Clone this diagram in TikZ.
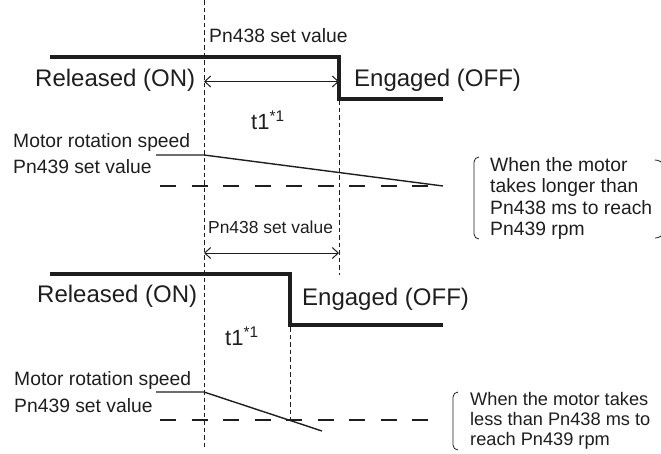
\documentclass[tikz,border=0pt]{standalone}
\usepackage{fontspec}
\setmainfont{Liberation Sans}
\usetikzlibrary{arrows.meta}
\definecolor{InkBlack}{RGB}{30,30,30}

\begin{document}
\begin{tikzpicture}[x=1pt,y=-1pt,
  big/.style={inner sep=0pt,anchor=base west,text=InkBlack,font=\fontsize{24}{28}\selectfont},
  lbl/.style={inner sep=0pt,anchor=base west,text=InkBlack,font=\fontsize{19.3}{22}\selectfont},
  note/.style={inner sep=0pt,anchor=north west,align=left,text=InkBlack},
  sig/.style={line width=3.6pt,InkBlack},
  speed/.style={line width=1.4pt,InkBlack},
  guide/.style={line width=0.8pt,InkBlack,dash pattern=on 4.5pt off 3pt},
  level/.style={line width=2pt,InkBlack,dash pattern=on 16pt off 15.5pt},
  dim/.style={{Straight Barb[length=6pt,width=11pt]}-{Straight Barb[length=6pt,width=11pt]},line width=1pt,InkBlack},
  brk/.style={line width=0.8pt,InkBlack},
]
\useasboundingbox (0,0) rectangle (661,453);

% time marks
\coordinate (g0) at (204,0);   \coordinate (g0e) at (204,447);
\coordinate (g1) at (339,100); \coordinate (g1e) at (339,275);
\coordinate (g2) at (290,327); \coordinate (g2e) at (290,421);
\draw[guide] (g0) -- (g0e);
\draw[guide] (g1) -- (g1e);
\draw[guide] (g2) -- (g2e);

% case 1: motor slower than Pn438
\draw[sig] (50,57) -- (339,57) -- (339,99) -- (443,99);
\node[lbl] (setA) at (209,42) {Pn438 set value};
\coordinate (dA0) at (204,81.5); \coordinate (dA1) at (339,81.5);
\draw[dim] (dA0) -- (dA1);
\node[big] (relA) at (35,86) {Released (ON)};
\node[big] (engA) at (354,86) {Engaged (OFF)};
\node[big,font=\fontsize{22}{26}\selectfont] (tA) at (251,129) {t1\textsuperscript{*1}};
\node[lbl] (motA) at (13,147) {Motor rotation speed};
\node[lbl] (spdA) at (13,173) {Pn439 set value};
\draw[speed] (156,155) -- (204,155) -- (443,186);
\draw[level] (160,186) -- (443,186);
\draw[brk] (479,157) to[out=180,in=90] (474,162) -- (474,234) to[out=-90,in=180] (479,239);
\draw[brk] (655,160) to[out=0,in=90] (663,166) -- (663,232) to[out=-90,in=0] (655,238);
\node[note,font=\fontsize{19.3}{21.5}\selectfont] (noteA) at (490,157)
  {When the motor\\takes longer than\\Pn438 ms to reach\\Pn439 rpm};

% case 2: motor faster than Pn438
\node[lbl,font=\fontsize{17.4}{20}\selectfont] (setB) at (208,233) {Pn438 set value};
\coordinate (dB0) at (204,253); \coordinate (dB1) at (339,253);
\draw[dim] (dB0) -- (dB1);
\draw[sig] (50,274) -- (290,274) -- (290,325) -- (443,325);
\node[big] (relB) at (37,302) {Released (ON)};
\node[big] (engB) at (302,305) {Engaged (OFF)};
\node[big,font=\fontsize{22}{26}\selectfont] (tB) at (225,345) {t1\textsuperscript{*1}};
\node[lbl] (motB) at (14,385) {Motor rotation speed};
\node[lbl] (spdB) at (14,412) {Pn439 set value};
\draw[speed] (156,392) -- (204,392) -- (322,431);
\draw[level] (160,420) -- (443,420);
\draw[brk] (458,392) to[out=180,in=90] (453,397) -- (453,445) to[out=-90,in=180] (458,450);
\node[note,font=\fontsize{18.2}{20}\selectfont] (noteB) at (470,392)
  {When the motor takes\\less than Pn438 ms to\\reach Pn439 rpm};
\end{tikzpicture}
\end{document}
